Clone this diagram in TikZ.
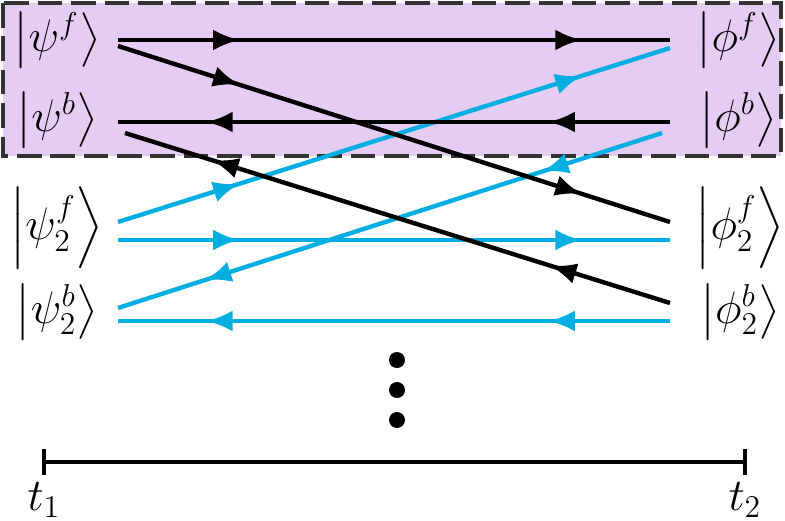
\documentclass[tikz,border=0pt]{standalone}
\usepackage{amsmath}
\usetikzlibrary{decorations.markings,arrows.meta}
\definecolor{boxfill}{RGB}{229,204,242}
\definecolor{skyline}{RGB}{0,174,226}
\begin{document}
\begin{tikzpicture}[x=0.02cm,y=-0.02cm,
  ket/.style={font=\LARGE,inner sep=0pt,scale=1.5},
  flow/.style={line width=2.5pt,postaction={decorate},decoration={markings,
    mark=at position 0.22 with {\arrow{Latex[length=15pt,width=12pt]}},
    mark=at position 0.84 with {\arrow{Latex[length=15pt,width=12pt]}}}}]
  \useasboundingbox (0,0) rectangle (785,521);
  \draw[fill=boxfill,draw=black!80,line width=2.4pt,dash pattern=on 14pt off 5pt]
    (3,3) rectangle (781,156);
  % kets on the left
  \node[ket] (psif) at (57,40) {$\left|\psi^f\right\rangle$};
  \node[ket] (psib) at (57,120) {$\left|\psi^b\right\rangle$};
  \node[ket] (psitf) at (57,228) {$\left|\psi_2^f\right\rangle$};
  \node[ket] (psitb) at (57,312) {$\left|\psi_2^b\right\rangle$};
  % kets on the right
  \node[ket] (phif) at (738,40) {$\left|\phi^f\right\rangle$};
  \node[ket] (phib) at (738,120) {$\left|\phi^b\right\rangle$};
  \node[ket] (phitf) at (740,228) {$\left|\phi_2^f\right\rangle$};
  \node[ket] (phitb) at (740,312) {$\left|\phi_2^b\right\rangle$};
  % line ends
  \coordinate (a1) at (118,40); \coordinate (b1) at (670,40);
  \coordinate (a2) at (118,46); \coordinate (b2) at (670,222);
  \coordinate (a3) at (118,122); \coordinate (b3) at (670,122);
  \coordinate (a4) at (125,133); \coordinate (b4) at (670,303);
  \coordinate (a5) at (118,222); \coordinate (b5) at (670,48);
  \coordinate (a6) at (118,240); \coordinate (b6) at (670,240);
  \coordinate (a7) at (118,308); \coordinate (b7) at (662,133);
  \coordinate (a8) at (118,321); \coordinate (b8) at (670,321);
  \draw[flow,skyline] (a5) -- (b5);
  \draw[flow,skyline] (a6) -- (b6);
  \draw[flow,skyline] (b7) -- (a7);
  \draw[flow,skyline] (b8) -- (a8);
  \draw[flow] (a1) -- (b1);
  \draw[flow] (a2) -- (b2);
  \draw[flow] (b3) -- (a3);
  \draw[flow] (b4) -- (a4);
  % dots
  \foreach \y in {360,390,420}
    \fill (397,\y) circle (8);
  % time axis
  \coordinate (s) at (44,462); \coordinate (e) at (745,462);
  \draw[line width=2pt] (s) -- (e);
  \draw[line width=2pt] (44,449) -- (44,475) (745,449) -- (745,475);
  \node[ket] (t1) at (44,500) {$t_1$};
  \node[ket] (t2) at (745,500) {$t_2$};
\end{tikzpicture}
\end{document}
